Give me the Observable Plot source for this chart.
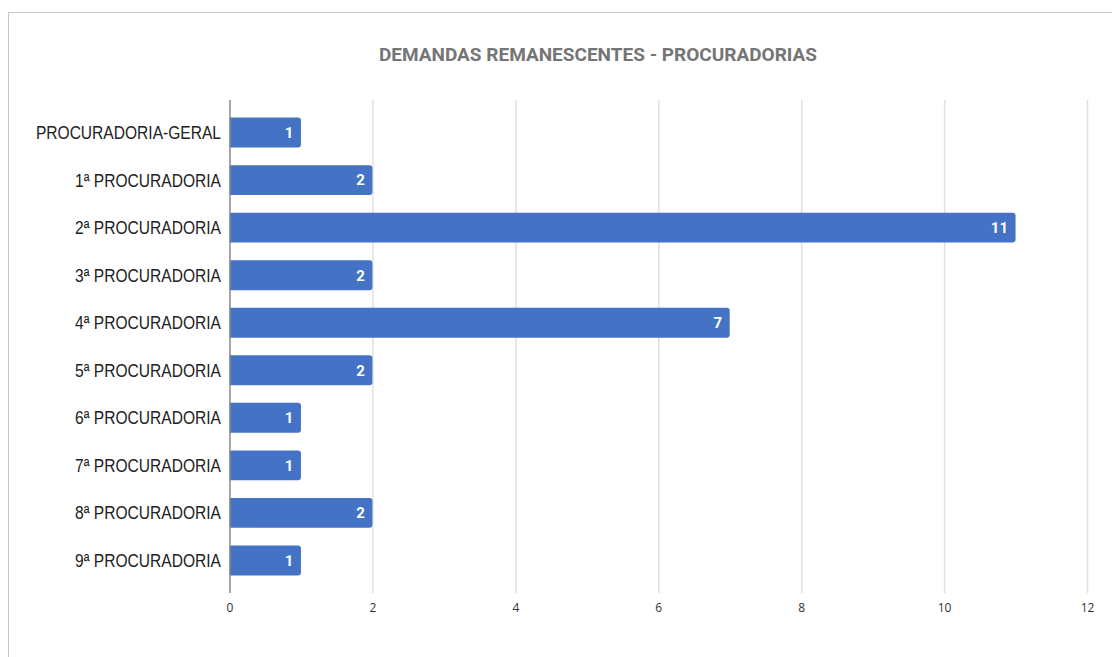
<!DOCTYPE html>
<html>
<head>
<meta charset="utf-8">
<script src="https://cdn.jsdelivr.net/npm/d3@7"></script>
<script src="https://cdn.jsdelivr.net/npm/@observablehq/plot@0.6"></script>
<style>
  html, body { margin: 0; padding: 0; background: #fff; overflow: hidden; }
  #frame { position: absolute; left: 8px; top: 12px; width: 1130px; height: 670px; border: 1px solid #c6c6c6; box-sizing: border-box; }
  #title { position: absolute; left: 0; width: 1196px; top: 43px; text-align: center; font-family: Roboto, sans-serif; font-weight: bold; font-size: 19px; color: #757575; }
  #chart { position: absolute; left: 0; top: 0; }
</style>
</head>
<body>
<div id="frame"></div>
<div id="title">DEMANDAS REMANESCENTES - PROCURADORIAS</div>
<div id="chart"></div>
<script>
const categories = ["PROCURADORIA-GERAL", "1ª PROCURADORIA", "2ª PROCURADORIA", "3ª PROCURADORIA", "4ª PROCURADORIA", "5ª PROCURADORIA", "6ª PROCURADORIA", "7ª PROCURADORIA", "8ª PROCURADORIA", "9ª PROCURADORIA"];
const values = [1, 2, 11, 2, 7, 2, 1, 1, 2, 1];
const xTicks = [0, 2, 4, 6, 8, 10, 12];

const data = categories.map((c, i) => ({name: c, value: values[i]}));
const blue = "#4472c4";

const chart = Plot.plot({
  width: 1112,
  height: 657,
  marginLeft: 229.5,
  marginRight: 25,
  marginTop: 100,
  marginBottom: 64,
  style: {background: "transparent", overflow: "visible"},
  x: {domain: [0, 12], ticks: xTicks, label: null},
  y: {domain: categories, padding: 0.37, round: false, label: null, axis: null},
  marks: [
    Plot.ruleX(xTicks.filter(t => t > 0), {stroke: "#e0e0e0", strokeWidth: 1.5}),
    // bar starts slightly left of zero so the left rounded corners are clipped away by the frame
    Plot.barX(data, {y: "name", x1: -0.15, x2: "value", fill: blue, rx: 3, clip: true}),
    Plot.ruleX([0], {stroke: "#8a8a8a", strokeWidth: 1.5}),
    Plot.text(data, {y: "name", x: "value", text: d => String(d.value), textAnchor: "end", dx: -8, fill: "#fff", fontWeight: "bold", fontSize: 15, fontFamily: "Roboto, sans-serif"}),
    Plot.axisX({ticks: xTicks, tickSize: 0, tickPadding: 10, fontSize: 12, fontFamily: "'Open Sans', sans-serif", fill: "#333", label: null}),
    // category labels
    Plot.text(categories, {y: d => d, frameAnchor: "left", textAnchor: "end", dx: -9, fontSize: 19, fontFamily: "'Liberation Sans', Arial, sans-serif", fill: "#222"})
  ]
});
document.getElementById("chart").appendChild(chart);

// condense the category labels horizontally (narrow face look), scaling about each label's anchor
chart.querySelectorAll('g[font-family*="Liberation"] text').forEach(t => {
  const x = +(t.getAttribute("x") || 0);
  const tr = t.getAttribute("transform") || "";
  t.setAttribute("transform", `${tr} translate(${x},0) scale(0.82,1) translate(${-x},0)`);
});
</script>
</body>
</html>
